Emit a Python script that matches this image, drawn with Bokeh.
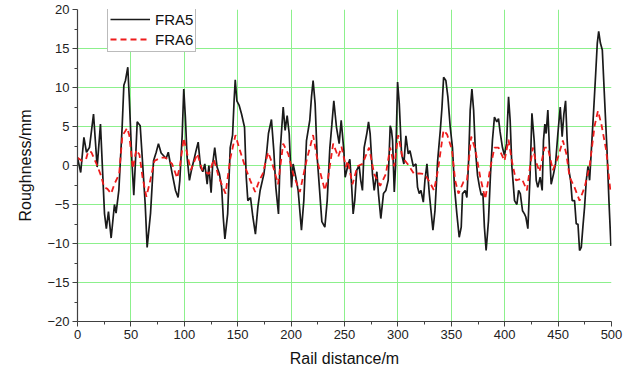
from bokeh.plotting import figure
from bokeh.models import ColumnDataSource, Range1d, FixedTicker, Legend, LegendItem
from bokeh.embed import file_html
from bokeh.resources import INLINE

# FRA5 (black, solid)
fra5_x = [0, 3, 6, 8.4, 11.2, 15, 18.4, 21.5, 25.3, 27, 29, 31.5, 34.6, 36.1, 38.7, 41.8, 43.4, 44.9,
          47.1, 48.6, 50.9, 52.7, 54.3, 55.9, 58.7, 61.2, 63.4, 65.2, 68.4, 71.2, 73.7, 75.8, 78.3, 83,
          85, 88.6, 91.8, 94.2, 95.8, 98, 99.5, 101, 102.6, 104.8, 106.7, 108.8, 111, 113, 115.2, 117.3,
          119.2, 121.4, 123, 125.1, 126.6, 128.5, 130.7, 132.9, 135, 136.5, 138, 140.6, 143, 145.2,
          146.7, 147.7, 149.2, 151.4, 153.6, 156.4, 158, 159.5, 162, 164.2, 166.6, 168.9, 171, 174.5,
          177, 178.8, 181.6, 183.8, 185.7, 188.2, 190, 192.6, 194.4, 196.3, 198.2, 200.4, 201.9, 204.4,
          206.6, 209.7, 211.9, 214.4, 217.5, 219.1, 220.6, 222.5, 224.4, 226.9, 228.8, 231.6, 233.8,
          236.3, 238.2, 240, 242.5, 245, 246.9, 249.4, 250.6, 253.5, 255, 256.6, 258.1, 259.6, 261.5,
          263.7, 265.2, 266.8, 268.4, 270.9, 272.5, 274, 276.2, 277.8, 280.3, 281.8, 284, 286.5, 288.7,
          290.9, 292.8, 294, 295, 296.6, 297.8, 299.7, 301.3, 303.4, 305.6, 307.5, 309.7, 311.3, 314.4,
          316.9, 318.4, 320, 321.6, 323.8, 325.3, 327.2, 329.4, 331, 332.8, 334.7, 337.2, 339.7, 341.3,
          342.8, 344.9, 346.8, 349, 351.1, 353, 355.2, 357.4, 359.3, 360.5, 363, 364.6, 366.2, 367.7,
          369.3, 370.9, 372.4, 374.6, 376.5, 378.1, 379.6, 381, 382.6, 384.8, 386.7, 388.5, 390.4,
          392.6, 394.2, 395.7, 397.9, 399.8, 401.7, 403.6, 405.1, 406.7, 409.2, 411.4, 413, 414.6,
          416.7, 418.5, 419.8, 421.7, 423.8, 425.5, 427.6, 429.5, 431, 433.2, 435.1, 436.3, 437.6,
          438.8, 440.4, 442, 443.5, 445.7, 447.6, 449.8, 452, 453.8, 455.4, 457, 458.5, 460.1, 461.7,
          463.2, 465.4, 467, 468.6, 470.1, 471.7, 473.2, 474.8, 476.4, 478, 479.5, 481.1, 483.3, 485.2,
          486.7, 488, 489.6, 491.4, 493.6, 495.8, 497.6, 499.5]
fra5_y = [1.0, -0.9, 3.6, 1.7, 2.3, 6.6, -0.2, 5.3, -6.2, -8.1, -5.9, -9.3, -5.0, -6.1, -3.2, 4.9, 10.3, 10.9,
          12.6, 8.3, 0.6, -3.8, 0.6, 5.6, 5.1, -0.2, -5.0, -10.5, -6.1, 0.6, 1.7, 2.8, 1.6, 0.9,
          1.7, -1.0, -3.2, -4.1, -1.9, 3.8, 9.8, 6.2, 1.1, -1.9, -0.6, 0.6, 1.9, 3.0, -0.2, -0.8,
          0.2, -2.4, 0.0, -3.5, 0.2, 2.3, -0.2, -1.1, -2.8, -6.7, -9.4, -6.2, 2.3, 3.9,
          8.5, 11.0, 8.3, 7.7, 6.6, 4.9, -1.5, -4.5, -4.1, -6.6, -8.8, -5.3, -3.2, -1.1,
          1.5, 4.1, 5.9, 1.9, -2.8, -6.2, 2.3, 7.5, 4.5, 6.4, 4.1, -2.8, 0.2, -1.5,
          -3.2, -8.3, -4.5, 3.2, 5.8, 8.8, 10.9, 7.9, 1.1, -3.6, -7.2, -7.9, -4.5,
          2.3, 5.3, 8.3, 4.9, 2.8, 5.8, 1.9, -1.5, 0.2, 0.8, -2.4, -6.2, -4.5, -0.6,
          0.0, -1.9, -3.2, 2.3, 4.1, 5.6, 4.1, -1.1, -3.2, -0.8, -3.6, -6.8, -3.6, -3.2,
          -1.9, 5.1, 4.5, 3.2, -3.4, -0.1, 10.7, 7.9, 1.5, 0.2, 3.8, 1.5, 1.9, -0.1,
          0.2, -2.8, -3.6, -3.2, -4.7, -1.9, 0.2, -3.6, -5.8, -8.3, -5.8, 0.6, 4.5, 7.5,
          11.3, 10.9, 8.8, 4.9, 2.3, -2.8, -6.2, -9.2, -7.9, -3.6, -3.2, -4.1, 0.6, 7.1,
          9.8, 7.1, 2.3, -1.3, -2.8, -3.8, -3.6, -7.9, -10.9, -7.1, -1.1, 3.2, 6.2,
          5.6, 6.0, 4.3, 2.3, 1.3, 2.8, 8.8, 5.8, -0.1, -4.5, -5.0, -3.2, -3.6,
          -5.8, -6.2, -6.6, -8.1, -1.1, 6.7, 3.2, -1.9, -2.8, -1.5, -3.2, 3.2, 5.3,
          4.1, 7.1, 1.9, -2.4, -1.1, 0.2, 4.1, 7.5, 3.7, 6.6, 8.3, 3.2, -0.6, -1.9,
          -4.5, -4.5, -7.5, -7.5, -10.9, -10.5, -7.9, -5.3, -1.9, -0.1, -1.9, 1.9, 7.1, 11.8,
          15.7, 17.2, 15.7, 14.8, 8.3, 1.9, -4.5, -10.3]

# FRA6 (red, dashed)
fra6_x = [0, 4, 8, 10, 13, 18.4, 22, 25, 28, 31.5, 34.5, 39, 42, 46.5, 48.6, 51.8, 55, 58, 61, 64.5, 68,
          72, 78, 82.4, 88.6, 93.3, 96, 99.5, 101.6, 106, 112.2, 116.9, 123, 127.7, 132.3, 138.6,
          143.2, 147.9, 151.5, 157, 161.7, 166.4, 170, 173.3, 178.5, 182.5, 187.8, 192.6, 197.3,
          202, 208.2, 214.4, 220.6, 225.3, 231.6, 234.7, 239.4, 244.1, 247.2, 251.3, 253, 257.5,
          262.1, 266.8, 273, 277.8, 283.4, 288.7, 292.8, 296.5, 300.3, 304.4, 309.1, 315.3, 320,
          325, 329.7, 333.8, 337.5, 342.7, 346, 350.5, 353.6, 356.7, 361.4, 364.6, 368.6, 372.4,
          377.1, 381.8, 386.4, 390.4, 394.2, 399.8, 403.6, 406.7, 410.5, 416.1, 420.8, 423.8,
          426.3, 429, 432.6, 437.3, 440.4, 445.1, 449.8, 454.5, 457.7, 460.8, 465.4, 470.1, 474.8,
          479.5, 484.2, 487.3, 490.5, 495.1, 499.2]
fra6_y = [1.0, 0.6, 0.8, 1.8, 1.7, 0.0, -1.3, -2.8, -3.0, -3.6, -2.4, -1.1, 3.8, 4.8, 3.8, -0.4, 2.0, 1.4, -1.6, -4.0, -2.0,
          0.6, 1.0, 1.0, 0.2, -1.6, 0.0, 3.5, 2.2, -0.6, 1.5, -0.6, -1.1, 0.8, -1.5, -3.6,
          1.0, 3.9, 2.2, -0.2, -1.9, -3.4, -2.0, -1.1, 1.7, 0.2, -2.4, 2.8, 1.5,
          -1.1, -3.4, 0.6, 3.9, 0.2, -3.2, -1.5, 2.8, 1.1, 2.4, -0.2, 0.6, -2.4,
          -0.1, 0.2, 2.3, -1.1, -2.6, -1.1, 2.3, -0.1, 3.9, 1.0, 0.2, -1.1, -1.0,
          -1.1, -2.1, -3.2, -0.6, 4.5, 4.0, 2.1, -1.9, -3.6, -2.1, -2.0, 3.7, 2.1,
          -1.5, -4.3, -0.4, 2.3, 2.3, 0.6, 3.3, 0.6, -1.9, -1.7, -3.2, -0.1,
          2.3, 0.6, -0.8, 2.3, 2.3, -0.6, 1.0, 3.2, 1.5, -1.5, -2.8, -4.5, -2.8,
          -0.1, 5.1, 7.0, 5.3, 1.9, -3.6]

x_ticks = [0, 50, 100, 150, 200, 250, 300, 350, 400, 450, 500]
y_ticks = [-20, -15, -10, -5, 0, 5, 10, 15, 20]
x_grid = [50, 100, 150, 200, 250, 300, 350, 400, 450]
y_grid = [-15, -10, -5, 0, 5, 10, 15]

FONT = "Liberation Sans"

p = figure(width=632, height=376, output_backend="svg", toolbar_location=None,
           x_range=Range1d(0, 500), y_range=Range1d(-20, 20),
           min_border_left=77, min_border_right=21, min_border_top=9, min_border_bottom=55)
p.outline_line_color = None
p.background_fill_color = "white"
p.border_fill_color = "white"

for ax, ticks in ((p.xaxis, x_ticks), (p.yaxis, y_ticks)):
    ax.ticker = FixedTicker(ticks=ticks, minor_ticks=[t + (ticks[1] - ticks[0]) / 2 for t in ticks[:-1]])
    ax.axis_line_color = "#404040"
    ax.axis_line_width = 1.2
    ax.major_tick_line_color = "#404040"
    ax.minor_tick_line_color = "#404040"
    ax.major_tick_in = 0
    ax.major_tick_out = 5
    ax.minor_tick_in = 0
    ax.minor_tick_out = 3
    ax.major_label_text_font = FONT
    ax.major_label_text_font_size = "13px"
    ax.major_label_text_color = "#222222"
    ax.axis_label_text_font = FONT
    ax.axis_label_text_font_size = "16px"
    ax.axis_label_text_font_style = "normal"
    ax.axis_label_text_color = "#111111"
    ax.major_label_standoff = 3

p.xaxis.axis_label = "Rail distance/m"
p.yaxis.axis_label = "Roughness/mm"
p.xaxis.axis_label_standoff = 8
p.yaxis.axis_label_standoff = 10

p.xgrid.ticker = FixedTicker(ticks=x_grid)
p.ygrid.ticker = FixedTicker(ticks=y_grid)
for g in (p.xgrid, p.ygrid):
    g.grid_line_color = "#8cf08c"
    g.grid_line_width = 1

s5 = ColumnDataSource(dict(x=fra5_x, y=fra5_y))
s6 = ColumnDataSource(dict(x=fra6_x, y=fra6_y))
r5 = p.line("x", "y", source=s5, line_color="#1a1a1a", line_width=1.7)
r6 = p.line("x", "y", source=s6, line_color="#ee1c1c", line_width=1.8, line_dash="6 4")

legend = Legend(items=[LegendItem(label="FRA5", renderers=[r5]),
                       LegendItem(label="FRA6", renderers=[r6])],
                location=(30, 269))
legend.margin = 0
legend.padding = 2
legend.spacing = 0
legend.glyph_width = 40
legend.glyph_height = 20
legend.label_height = 20
legend.label_standoff = 5
legend.label_text_font = FONT
legend.label_text_font_size = "15px"
legend.label_text_color = "#111111"
legend.border_line_color = "#777777"
legend.border_line_width = 1
legend.background_fill_color = "white"
legend.background_fill_alpha = 1
p.add_layout(legend)

open("out.html", "w").write(file_html(p, INLINE))
